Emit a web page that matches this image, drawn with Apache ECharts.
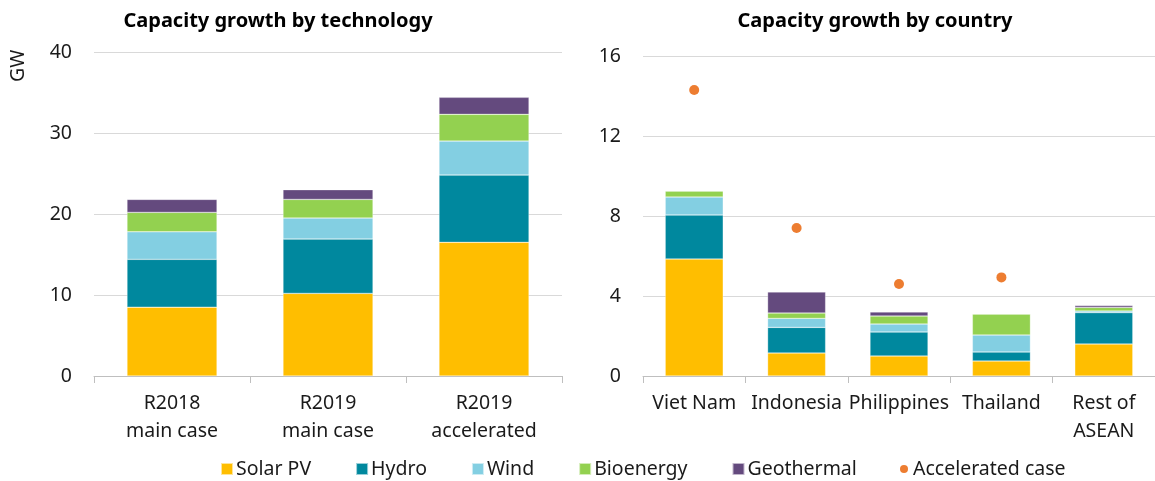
<!DOCTYPE html>
<html>
<head>
<meta charset="utf-8">
<script src="https://cdn.jsdelivr.net/npm/echarts@6/dist/echarts.min.js"></script>
<style>
  html, body { margin: 0; padding: 0; background: #fff; }
  #main { width: 1155px; height: 481px; }
</style>
</head>
<body>
<div id="main"></div>
<script>
// left panel: capacity growth by technology (GW)
var techCats = ['R2018\nmain case', 'R2019\nmain case', 'R2019\naccelerated'];
var techSolar = [8.5, 10.2, 16.5];
var techHydro = [5.9, 6.7, 8.3];
var techWind = [3.4, 2.6, 4.2];
var techBio = [2.4, 2.3, 3.3];
var techGeo = [1.6, 1.2, 2.1];

// right panel: capacity growth by country (GW)
var countryCats = ['Viet Nam', 'Indonesia', 'Philippines', 'Thailand', 'Rest of\nASEAN'];
var ctrySolar = [5.85, 1.15, 1.0, 0.75, 1.6];
var ctryHydro = [2.2, 1.28, 1.2, 0.45, 1.57];
var ctryWind = [0.9, 0.45, 0.4, 0.85, 0.08];
var ctryBio = [0.3, 0.27, 0.4, 1.05, 0.18];
var ctryGeo = [0, 1.05, 0.2, 0, 0.09];
var accelCase = [14.3, 7.4, 4.6, 4.93, null];

var names = ['Solar PV', 'Hydro', 'Wind', 'Bioenergy', 'Geothermal'];
var colors = ['#FFBE00', '#00889E', '#83CFE2', '#93D150', '#644A7E'];
var fontFam = '"Noto Sans", "Open Sans", sans-serif';
var fs = 19.5;

var chart = echarts.init(document.getElementById('main'));

function barSeries(name, color, data, idx, width) {
    return {
        name: name,
        type: 'bar',
        stack: 'g' + idx,
        xAxisIndex: idx,
        yAxisIndex: idx,
        barWidth: width,
        data: data,
        itemStyle: { color: color, borderColor: 'rgba(255,255,255,0.6)', borderWidth: 0.5 },
        emphasis: { disabled: true }
    };
}

var techData = [techSolar, techHydro, techWind, techBio, techGeo];
var ctryData = [ctrySolar, ctryHydro, ctryWind, ctryBio, ctryGeo];
var series = [];
for (var i = 0; i < names.length; i++) {
    series.push(barSeries(names[i], colors[i], techData[i], 0, 90));
}
for (var j = 0; j < names.length; j++) {
    series.push(barSeries(names[j], colors[j], ctryData[j], 1, 58));
}
series.push({
    name: 'Accelerated case',
    type: 'scatter',
    xAxisIndex: 1,
    yAxisIndex: 1,
    symbolSize: 10,
    data: accelCase,
    itemStyle: { color: '#ED7D31', opacity: 1 },
    z: 5
});

var axisLabelStyle = { color: '#1a1a1a', fontSize: fs, fontFamily: fontFam };

function catAxis(idx, data) {
    return {
        type: 'category',
        gridIndex: idx,
        data: data,
        axisLine: { lineStyle: { color: '#BFBFBF', width: 1 } },
        axisTick: { show: true, length: 7, lineStyle: { color: '#BFBFBF' } },
        axisLabel: Object.assign({ margin: 13, lineHeight: 28, interval: 0 }, axisLabelStyle)
    };
}

function valAxis(idx, max, interval) {
    return {
        type: 'value',
        gridIndex: idx,
        min: 0,
        max: max,
        interval: interval,
        axisLine: { show: false },
        axisTick: { show: false },
        splitLine: { lineStyle: { color: '#D9D9D9', width: 1 } },
        axisLabel: Object.assign({ margin: 22 }, axisLabelStyle)
    };
}

chart.setOption({
    animation: false,
    textStyle: { fontFamily: fontFam },
    title: [
        {
            text: 'Capacity growth by technology',
            left: 273, top: 6, textAlign: 'center',
            textStyle: { fontSize: 20, fontWeight: 'bold', color: '#000', fontFamily: fontFam }
        },
        {
            text: 'Capacity growth by country',
            left: 870, top: 6, textAlign: 'center',
            textStyle: { fontSize: 20, fontWeight: 'bold', color: '#000', fontFamily: fontFam }
        }
    ],
    graphic: [{
        type: 'text',
        x: 8, y: 82,
        rotation: Math.PI / 2,
        style: { text: 'GW', fontSize: fs, fill: '#1a1a1a', fontFamily: fontFam }
    }],
    legend: [
        {
            data: names,
            left: 215, top: 454,
            itemWidth: 12, itemHeight: 12, itemGap: 44,
            icon: 'rect',
            textStyle: { fontSize: fs, color: '#1a1a1a', fontFamily: fontFam, padding: [0, 0, 0, -2] }
        },
        {
            data: ['Accelerated case'],
            left: 895, top: 454,
            itemWidth: 8, itemHeight: 8,
            icon: 'circle',
            textStyle: { fontSize: fs, color: '#1a1a1a', fontFamily: fontFam }
        }
    ],
    grid: [
        { left: 94, top: 52, width: 468, height: 324 },
        { left: 643, top: 56, width: 515, height: 320 }
    ],
    xAxis: [catAxis(0, techCats), catAxis(1, countryCats)],
    yAxis: [valAxis(0, 40, 10), valAxis(1, 16, 4)],
    series: series
});
</script>
</body>
</html>
